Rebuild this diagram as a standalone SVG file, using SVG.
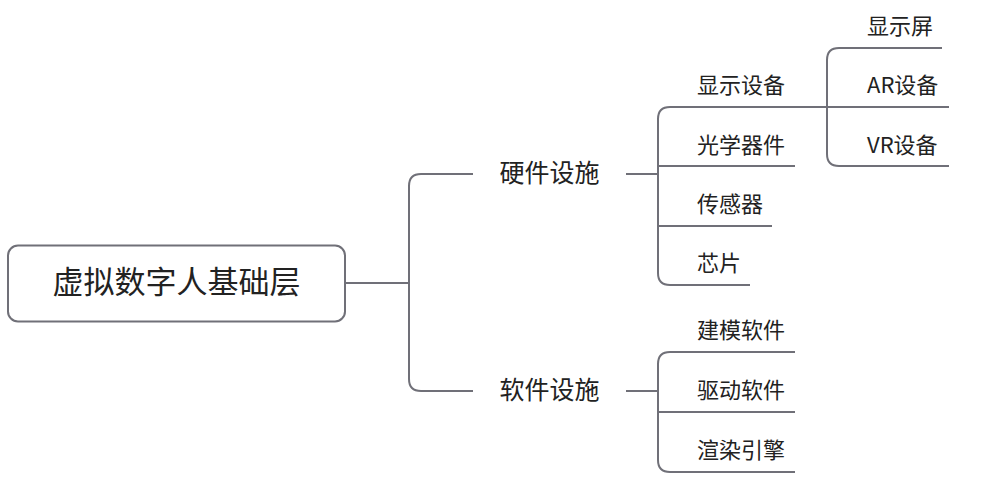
<svg xmlns="http://www.w3.org/2000/svg" width="986" height="486" viewBox="0 0 986 486">
<style>
.ln{fill:none;stroke:#707078;stroke-width:2;stroke-linecap:butt}
text{font-family:"Noto Sans CJK SC","Noto Sans",sans-serif;fill:#222;dominant-baseline:central}
.root{font-size:31px;text-anchor:middle}
.mid{font-size:25px;text-anchor:middle}
.leaf{font-size:22px;text-anchor:start}
</style>
<rect width="986" height="486" fill="#fff"/>
<g id="connectors">
<path class="ln" d="M345 283 H409"/>
<path class="ln" d="M473 174 H421 Q409 174 409 186 V379 Q409 391 421 391 H473"/>
<path class="ln" d="M626 174 H658"/>
<path class="ln" d="M827 107 H670 Q658 107 658 119 V273 Q658 285 670 285 H750"/>
<path class="ln" d="M658 166 H795"/>
<path class="ln" d="M658 226 H772"/>
<path class="ln" d="M942 48 H839 Q827 48 827 60 V154 Q827 166 839 166 H949"/>
<path class="ln" d="M827 107 H949"/>
<path class="ln" d="M626 391 H658"/>
<path class="ln" d="M795 352 H670 Q658 352 658 364 V460 Q658 472 670 472 H795"/>
<path class="ln" d="M658 412 H795"/>
</g>
<g id="root"><rect x="8" y="245.5" width="337" height="76" rx="10" fill="#fff" stroke="#707078" stroke-width="2"/><text class="root" x="176.5" y="279">虚拟数字人基础层</text></g>
<g id="hardware"><text class="mid" x="549.5" y="171">硬件设施</text></g>
<g id="software"><text class="mid" x="549.5" y="388">软件设施</text></g>
<g id="display"><text class="leaf" x="697" y="83">显示设备</text></g>
<g id="optics"><text class="leaf" x="697" y="143">光学器件</text></g>
<g id="sensor"><text class="leaf" x="697" y="202">传感器</text></g>
<g id="chip"><text class="leaf" x="697" y="261">芯片</text></g>
<g id="screen"><text class="leaf" x="867" y="24">显示屏</text></g>
<g id="ar"><text class="leaf" x="867" y="83">AR设备</text></g>
<g id="vr"><text class="leaf" x="867" y="143">VR设备</text></g>
<g id="modeling"><text class="leaf" x="697" y="328">建模软件</text></g>
<g id="driver"><text class="leaf" x="697" y="388">驱动软件</text></g>
<g id="render"><text class="leaf" x="697" y="448">渲染引擎</text></g>
</svg>
